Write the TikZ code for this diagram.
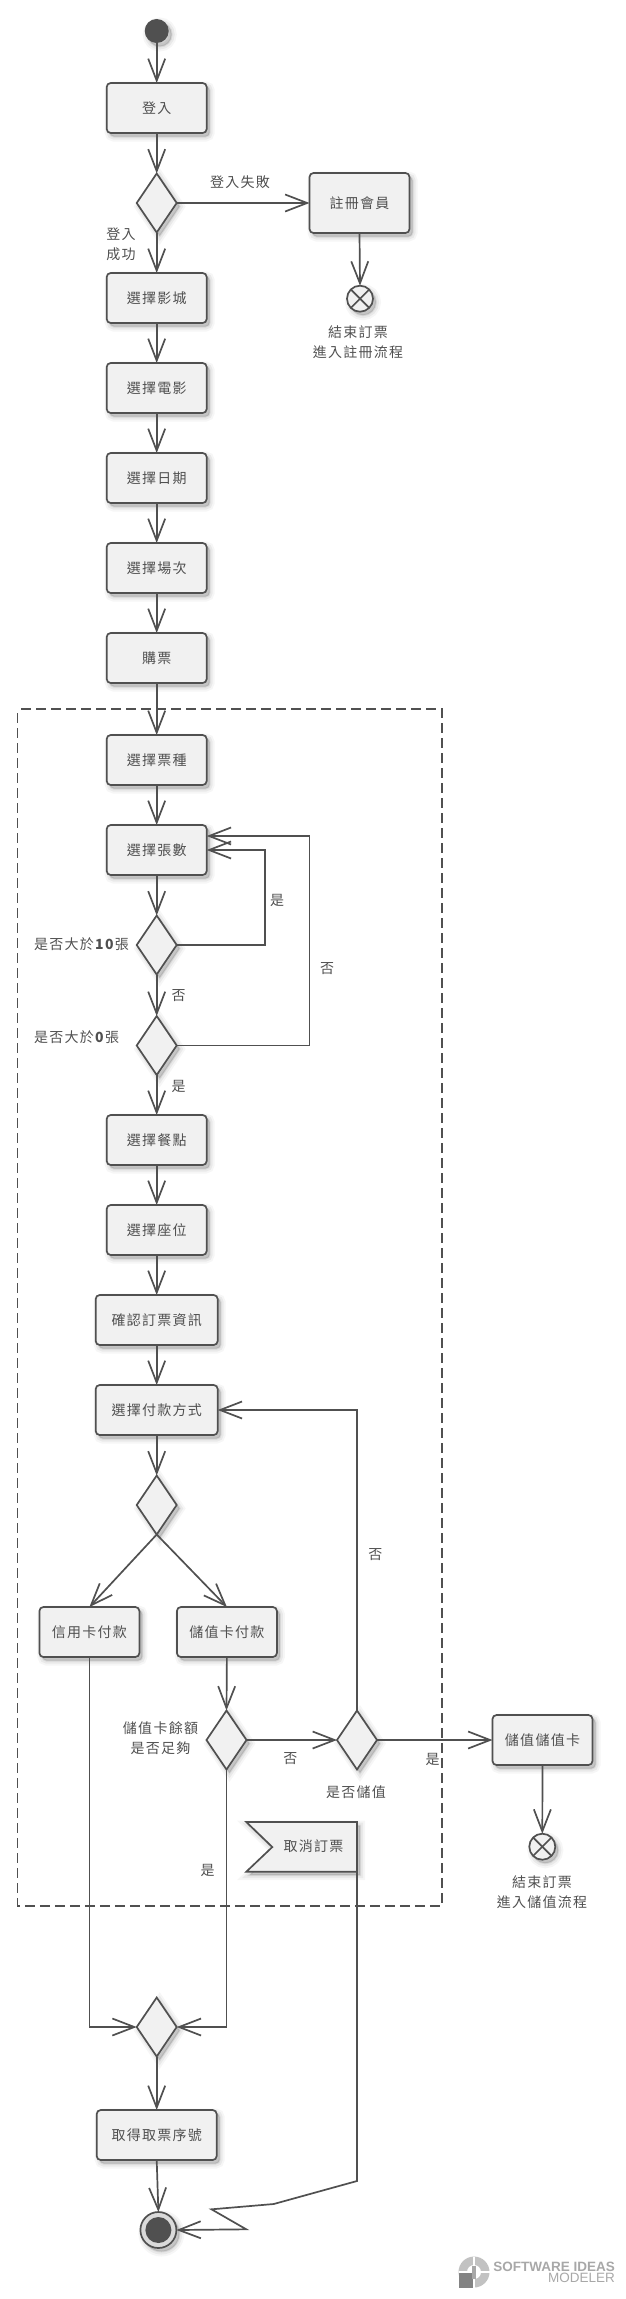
\documentclass[tikz,border=0pt]{standalone}
\usepackage{fontspec}
\setmainfont{Noto Sans CJK TC}[LetterSpace=9]
\newfontfamily\markfont{Liberation Sans}
\usetikzlibrary{arrows.meta,shapes.geometric,shadows}
\definecolor{inkgray}{HTML}{505050}
\definecolor{boxgray}{HTML}{F1F1F1}
\definecolor{markgray}{HTML}{A8A8A8}
\tikzset{
  softshadow/.style={
    general shadow={shadow xshift=3pt,shadow yshift=-3.5pt,draw=black,fill=black,opacity=.035,line width=10pt},
    general shadow={shadow xshift=3pt,shadow yshift=-3.5pt,draw=black,fill=black,opacity=.05,line width=6pt},
    general shadow={shadow xshift=3pt,shadow yshift=-3.5pt,draw=black,fill=black,opacity=.08,line width=2pt}},
  actbox/.style={draw=inkgray,fill=boxgray,line width=1.7pt,rounded corners=4pt,minimum width=100pt,minimum height=50pt,inner sep=0pt,outer sep=0pt,softshadow},
  decision/.style={diamond,draw=inkgray,fill=boxgray,line width=1.7pt,minimum width=40pt,minimum height=59pt,inner sep=0pt,outer sep=0pt,softshadow},
  stopnode/.style={circle,draw=inkgray,fill=boxgray,line width=1.7pt,minimum size=26pt,inner sep=0pt,outer sep=0pt,softshadow},
  flow/.style={draw=inkgray,line width=1.7pt,-{Straight Barb[length=22pt,width=17pt]}},
  note/.style={text=inkgray,font=\fontsize{14}{20}\selectfont,align=center,inner sep=0pt}
}
\begin{document}
\begin{tikzpicture}[x=1pt,y=-1pt]
    \useasboundingbox (0,0) rectangle (625,2299);
    \draw[inkgray,line width=1.7pt,dash pattern=on 10pt off 5pt,dash phase=11pt] (17.5,709) rectangle (442,1905.7); % Payment frame

    \node[circle,fill=inkgray,minimum size=24pt,inner sep=0pt,outer sep=0pt,softshadow] (start) at (156.7,31) {};

    % Main chain of activities
    \foreach \n/\y/\t in {login/108/登入,cinema/298/選擇影城,movie/388/選擇電影,day/478/選擇日期,show/568/選擇場次,buy/658/購票,kind/760/選擇票種,count/850/選擇張數,food/1140/選擇餐點,seat/1230/選擇座位}
        \node[actbox,note] (\n) at (156.7,\y) {\t};
    \node[actbox,note,minimum width=122pt] (confirm) at (156.7,1320) {確認訂票資訊};
    \node[actbox,note,minimum width=122pt] (pay) at (156.7,1410) {選擇付款方式};
    \node[actbox,note,minimum width=100pt] (card) at (89.4,1632) {信用卡付款};
    \node[actbox,note,minimum width=100pt] (stored) at (226.9,1632) {儲值卡付款};
    \node[actbox,note,minimum width=100pt,minimum height=60pt] (register) at (359.5,203) {註冊會員};
    \node[actbox,note,minimum width=100pt] (topup) at (542.5,1740) {儲值儲值卡};
    \node[actbox,note,minimum width=120pt] (ticket) at (156.7,2135) {取得取票序號};

    \node[decision] (dlogin) at (156.7,203) {};
    \node[decision] (dten) at (156.7,945) {};
    \node[decision] (dzero) at (156.7,1045.5) {};
    \node[decision] (dpay) at (156.7,1505) {};
    \node[decision] (dfund) at (226.5,1740) {};
    \node[decision] (dtopup) at (357,1740) {};
    \node[decision] (merge) at (156.7,2027) {};

    \node[stopnode] (endreg) at (360,298.7) {};
    \node[stopnode] (endtop) at (542.3,1846.7) {};
    \foreach \p in {endreg,endtop} {
        \draw[inkgray,line width=1.7pt] (\p.north west)--(\p.south east);
        \draw[inkgray,line width=1.7pt] (\p.north east)--(\p.south west);
    }

    \node[circle,draw=inkgray,fill=boxgray!80!gray,line width=1.7pt,minimum size=36pt,inner sep=0pt,outer sep=0pt,softshadow] (final) at (158.4,2230) {};
    \node[circle,fill=inkgray,minimum size=26pt,inner sep=0pt] (finalcore) at (final) {};

    % Cancel flag
    \coordinate (fa) at (246.3,1822); \coordinate (fb) at (357,1822);
    \coordinate (fc) at (357,1871.7); \coordinate (fd) at (246.3,1871.7);
    \coordinate (fe) at (272.3,1847);
    \filldraw[draw=inkgray,fill=boxgray,line width=1.7pt,softshadow] (fa)--(fb)--(fc)--(fd)--(fe)--cycle;
    \node[note] (cancel) at (313.5,1845.7) {取消訂票};

    % Connectors
    \draw[flow] (start)--(login.north);
    \draw[flow] (login.south)--(dlogin.north);
    \draw[flow] (dlogin.east)--(register.west);
    \draw[flow] (dlogin.south)--(cinema.north);
    \draw[flow] (register.south)--(endreg.north);
    \foreach \a/\b in {cinema/movie,movie/day,day/show,show/buy,buy/kind,kind/count,food/seat,seat/confirm,confirm/pay,ticket/final}
        \draw[flow] (\a.south)--(\b.north);
    \draw[flow] (count.south)--(dten.north);
    \draw[flow] (dten.south)--(dzero.north);
    \draw[flow] (dzero.south)--(food.north);
    \coordinate (loopa) at (206.7,850); \coordinate (loopb) at (206.7,836);
    \draw[flow] (dten.east)-|(265.3,850)--(loopa);
    \draw[flow] (dzero.east)-|(309.6,836)--(loopb);
    \draw[flow] (pay.south)--(dpay.north);
    \draw[flow] (dpay.south)--(card.north);
    \draw[flow] (dpay.south)--(stored.north);
    \draw[flow] (stored.south)--(dfund.north);
    \draw[flow] (dfund.east)--(dtopup.west);
    \draw[flow] (dtopup.east)--(topup.west);
    \draw[flow] (topup.south)--(endtop.north);
    \draw[flow] (dtopup.north)|-(pay.east);
    \draw[flow] (card.south)|-(merge.west);
    \draw[flow] (dfund.south)|-(merge.east);
    \draw[flow] (merge.south)--(ticket.north);
    \draw[flow] (fc)--(357,2181)--(273.7,2204)--(211.5,2209.3)--(246.3,2229.3)--(final.east);

    % Labels
    \node[note] (lfail) at (240,182) {登入失敗};
    \node[note] (lok) at (121,244.5) {登入\\成功};
    \node[note] (lreg) at (358,342) {結束訂票\\進入註冊流程};
    \node[note] (lyes) at (277,900.7) {是};
    \node[note] (lno) at (327,968.7) {否};
    \node[note] (ltenno) at (178.5,996) {否};
    \node[note] (lzeroyes) at (178.5,1086.7) {是};
    \node[note,anchor=west] (lten) at (34,944) {是否大於\textbf{10}張};
    \node[note,anchor=west] (lzero) at (34,1036.7) {是否大於\textbf{0}張};
    \node[note] (lupno) at (375.4,1555) {否};
    \node[note] (lfund) at (160.5,1738.5) {儲值卡餘額\\是否足夠};
    \node[note] (lfundno) at (290.3,1759) {否};
    \node[note] (ltopyes) at (432.5,1759) {是};
    \node[note] (lask) at (356,1792) {是否儲值};
    \node[note] (lfundyes) at (207.5,1870.7) {是};
    \node[note] (ltop) at (542,1892.5) {結束訂票\\進入儲值流程};

    % Watermark
    \fill[markgray!70] (474,2272) circle (15.5pt);
    \fill[white] (474,2272) circle (7pt);
    \fill[white] (458.5,2270.5) rectangle (489.5,2273);
    \fill[white] (473,2257) rectangle (475,2288);
    \fill[markgray!70!black!90] (458.5,2273) rectangle (473,2288);
    \fill[markgray] (472,2266) rectangle (476,2279);
    \node[anchor=east,inner sep=0pt,text=markgray] (markname) at (615,2267) {\markfont\fontsize{13.5}{14}\selectfont\bfseries SOFTWARE IDEAS};
    \node[anchor=east,inner sep=0pt,text=markgray] (markmod) at (615,2278) {\markfont\fontsize{13.5}{14}\selectfont MODELER};
\end{tikzpicture}
\end{document}
